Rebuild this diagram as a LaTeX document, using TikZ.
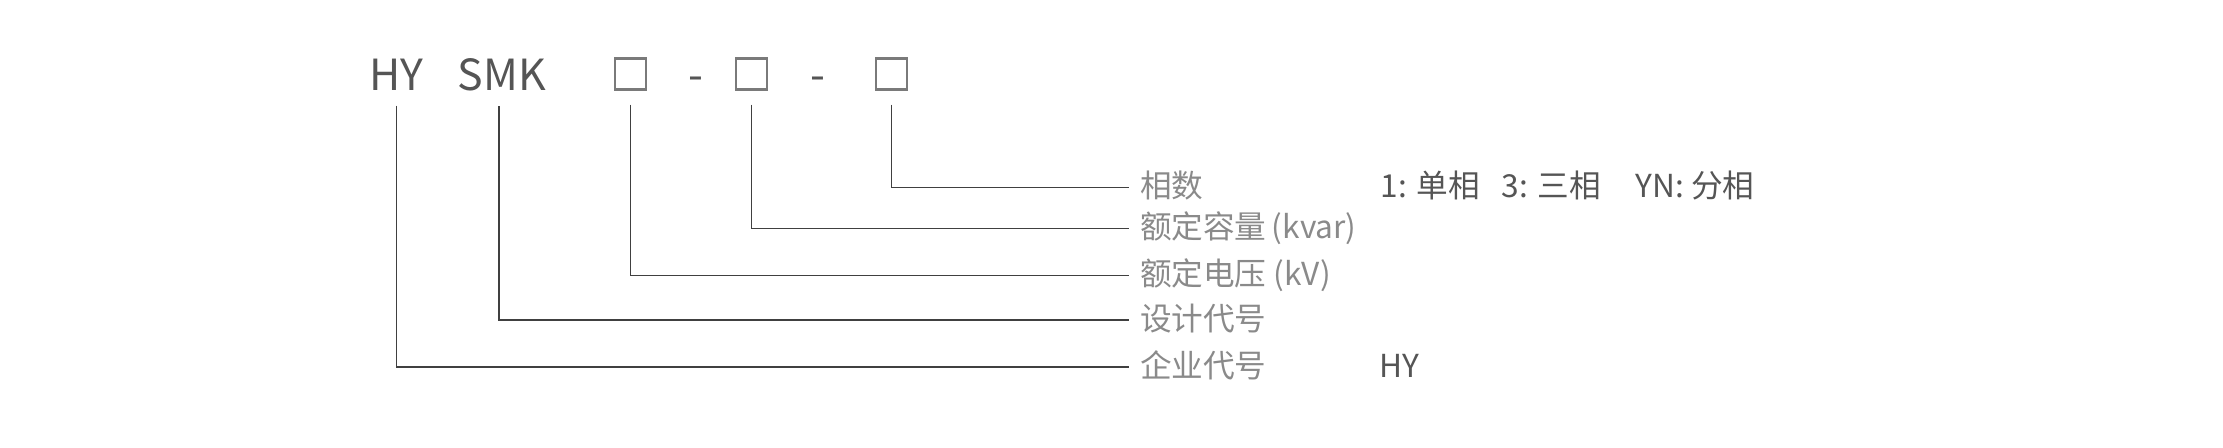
\documentclass[tikz,border=0pt]{standalone}
\usepackage{fontspec}
\setmainfont{Noto Sans CJK SC}
\definecolor{codegray}{HTML}{555555}
\definecolor{boxgray}{HTML}{7A7A7A}
\definecolor{labelgray}{HTML}{8A8A8A}
\definecolor{linegray}{HTML}{404040}
\begin{document}
\begin{tikzpicture}[x=0.01cm,y=-0.01cm]
        \useasboundingbox (0,0) rectangle (2223,447);

        \begin{scope}[every node/.style={anchor=base, inner sep=0pt, outer sep=0.15cm, text=codegray, font=\fontsize{12.2}{14}\selectfont}]
          \node (hy)  at (396.7,90.7) {HY};
          \node (smk) at (502,90.7)   {SMK};
          \node (d1)  at (696,90.7)   {-};
          \node (d2)  at (817.5,90.7) {-};
        \end{scope}

        \begin{scope}[every node/.style={draw=boxgray, line width=0.6pt, minimum size=0.31cm, inner sep=0pt, outer sep=0.15cm}]
          \node (b1) at (630.5,74) {};
          \node (b2) at (751.7,74) {};
          \node (b3) at (891.7,74) {};
        \end{scope}

        \begin{scope}[every node/.style={anchor=west, inner sep=0pt, outer sep=0.11cm, text height=7.2pt, text depth=1.5pt, text=labelgray, font=\fontsize{9}{11}\selectfont}]
          \node (xiangshu) at (1129,187.5) {相数};
          \node (rongliang) at (1129,228.5) {额定容量\,(kvar)};
          \node (dianya) at (1129,275.5) {额定电压 (kV)};
          \node (sheji) at (1129,320) {设计代号};
          \node (qiye) at (1129,367) {企业代号};
        \end{scope}

        \begin{scope}[every node/.style={anchor=west, inner sep=0pt, text height=7.2pt, text depth=1.5pt, text=codegray, font=\fontsize{9}{11}\selectfont}]
          \node (dan)  at (1380,187.5) {1: 单相};
          \node (san)  at (1501,187.5) {3: 三相};
          \node (fen)  at (1635,187.5) {YN: 分相};
          \node (hyv)  at (1379,367)   {HY};
        \end{scope}

        \begin{scope}[draw=linegray, line width=0.45pt]
          \draw (b3.south) |- (xiangshu.west);
          \draw (b2.south) |- (rongliang.west);
          \draw (b1.south) |- (dianya.west);
          \draw ([xshift=-0.03cm]smk.south) |- (sheji.west);
          \draw (hy.south) |- (qiye.west);
        \end{scope}

      \end{tikzpicture}
\end{document}
